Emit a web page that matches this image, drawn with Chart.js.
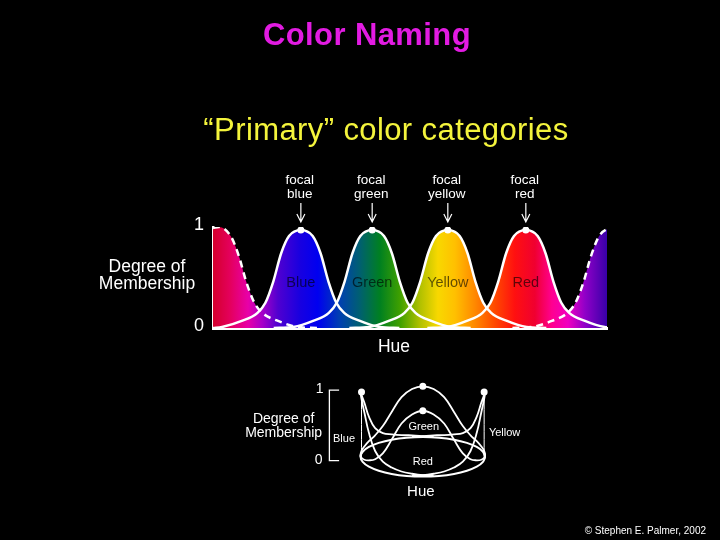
<!DOCTYPE html>
<html>
<head>
<meta charset="utf-8">
<title>Color Naming</title>
<script src="https://cdn.jsdelivr.net/npm/chart.js@4.4.1/dist/chart.umd.min.js"></script>
<style>
  html, body { margin: 0; padding: 0; background: #000; }
  #wrap { position: relative; width: 720px; height: 540px; overflow: hidden; background: #000; }
  #mainChart { position: absolute; left: 0; top: 0; }
  #crownChart { position: absolute; left: 230px; top: 372px; }
</style>
</head>
<body>
<div id="wrap">
  <canvas id="mainChart" width="720" height="540"></canvas>
  <canvas id="crownChart" width="300" height="133"></canvas>
</div>
<script>
// ===== Data: membership curves along the hue axis (hue 0..100) =====
const categories = ["Blue", "Green", "Yellow", "Red"];
const focalHue = [22.3, 40.4, 59.6, 79.4];
const focalPeak = [0.97, 0.97, 0.97, 0.97];

const hueLeft   = [0, 1.5, 4.5, 6.5, 8.5, 10.5, 12.5, 16.5, 21.5, 26.5];
const memLeft   = [0.99, 1.0, 0.91, 0.72, 0.45, 0.25, 0.15, 0.07, 0.01, 0];
const hueBlue   = [0, 2.3, 7.3, 11.3, 13.3, 15.3, 17.3, 19.3, 22.3, 25.3, 27.3, 29.3, 31.3, 33.3, 37.3, 42.3, 47.3];
const memBlue   = [0, 0.01, 0.07, 0.15, 0.25, 0.46, 0.74, 0.91, 0.97, 0.91, 0.74, 0.46, 0.25, 0.15, 0.07, 0.01, 0];
const hueGreen  = [15.4, 20.4, 25.4, 29.4, 31.4, 33.4, 35.4, 37.4, 40.4, 43.4, 45.4, 47.4, 49.4, 51.4, 55.4, 60.4, 65.4];
const memGreen  = [0, 0.01, 0.07, 0.15, 0.25, 0.46, 0.74, 0.91, 0.97, 0.91, 0.74, 0.46, 0.25, 0.15, 0.07, 0.01, 0];
const hueYellow = [34.6, 39.6, 44.6, 48.6, 50.6, 52.6, 54.6, 56.6, 59.6, 62.6, 64.6, 66.6, 68.6, 70.6, 74.6, 79.6, 84.6];
const memYellow = [0, 0.01, 0.07, 0.15, 0.25, 0.46, 0.74, 0.91, 0.97, 0.91, 0.74, 0.46, 0.25, 0.15, 0.07, 0.01, 0];
const hueRed    = [54.4, 59.4, 64.4, 68.4, 70.4, 72.4, 74.4, 76.4, 79.4, 82.4, 84.4, 86.4, 88.4, 90.4, 94.4, 99.4, 104.4];
const memRed    = [0, 0.01, 0.07, 0.15, 0.25, 0.46, 0.74, 0.91, 0.97, 0.91, 0.74, 0.46, 0.25, 0.15, 0.07, 0.01, 0];
const hueRight  = [76, 81, 86, 90, 92, 94, 96, 98, 101];
const memRight  = [0, 0.01, 0.07, 0.15, 0.25, 0.45, 0.72, 0.91, 1.0];

// ===== Data: the circular "crown" diagram (ring units, y up) =====
const ringX = [64, 61.8, 55.4, 45.3, 32, 16.6, 0, -16.6, -32, -45.3, -55.4, -61.8, -64, -61.8, -55.4, -45.3, -32, -16.6, 0, 16.6, 32, 45.3, 55.4, 61.8, 64];
const ringY = [0, 5.4, 10.5, 14.8, 18.2, 20.3, 21, 20.3, 18.2, 14.8, 10.5, 5.4, 0, -5.4, -10.5, -14.8, -18.2, -20.3, -21, -20.3, -18.2, -14.8, -10.5, -5.4, 0];
const crownBlueX   = [11.1, 0, -11.1, -21.9, -32, -41.1, -49, -55.4, -60.1, -63, -64, -63, -60.1, -55.4, -49, -41.1, -32, -21.9, -11.1, 0, 11.1];
const crownBlueY   = [21.2, 22.1, 22.9, 23, 23.8, 25.3, 30.6, 42.8, 57.8, 66, 69, 61.5, 47.5, 25.5, 6.2, -5.2, -11.4, -15.6, -18, -19.6, -20];
const crownYellowX = [-11.1, 0, 11.1, 21.9, 32, 41.1, 49, 55.4, 60.1, 63, 64, 63, 60.1, 55.4, 49, 41.1, 32, 21.9, 11.1, 0, -11.1];
const crownYellowY = [21.2, 22.1, 22.9, 23, 23.8, 25.3, 30.6, 42.8, 57.8, 66, 69, 61.5, 47.5, 25.5, 6.2, -5.2, -11.4, -15.6, -18, -19.6, -20];
const crownGreenX  = [-63, -64, -63, -60.1, -55.4, -49, -41.1, -32, -21.9, -11.1, 0, 11.1, 21.9, 32, 41.1, 49, 55.4, 60.1, 63, 64, 63];
const crownGreenY  = [-3, 1.4, 6.3, 11, 16.6, 22.9, 32.7, 47.8, 63.5, 72.2, 75, 72.2, 63.5, 47.8, 32.7, 22.9, 16.6, 11, 6.3, 1.4, -3];
const crownRedX    = [-63, -64, -63, -60.1, -55.4, -49, -41.1, -32, -21.9, -11.1, 0, 11.1, 21.9, 32, 41.1, 49, 55.4, 60.1, 63, 64, 63];
const crownRedY    = [4.4, 1.4, -1, -3.1, -3.7, -2.6, 3.6, 18.3, 35.5, 45, 49, 45, 35.5, 18.3, 3.6, -2.6, -3.7, -3.1, -1, 1.4, 4.4];
const crownPeakX = [-63, 0, 63, 0];
const crownPeakY = [69, 75, 69, 49];

// ===== Styles =====
const FONT = '"Liberation Sans", Arial, Helvetica, sans-serif';
const gradStops  = [0, 0.043, 0.089, 0.124, 0.165, 0.221, 0.266, 0.322, 0.373, 0.424, 0.475, 0.525, 0.571, 0.614, 0.665, 0.716, 0.766, 0.817, 0.86, 0.901, 0.944, 1];
const gradColors = ["#d4002c", "#e4005c", "#e800a8", "#a800c8", "#5000d0", "#1800e0", "#0000f0", "#0040b0", "#006070",
                    "#008020", "#40a000", "#b0c000", "#f8d800", "#ffc000", "#ff8800", "#ff4800", "#ff1010", "#f00030",
                    "#ff0090", "#f000c0", "#9000c8", "#3800a8"];

function toPoints(xs, ys) {
  return xs.map((v, i) => ({ x: v, y: ys[i] }));
}

function hueGradient(context) {
  const { ctx, chartArea } = context.chart;
  if (!chartArea) return 'transparent';
  const g = ctx.createLinearGradient(chartArea.left, 0, chartArea.right, 0);
  gradStops.forEach((s, i) => g.addColorStop(s, gradColors[i]));
  return g;
}

function curve(xs, ys, dashed) {
  return {
    data: toPoints(xs, ys),
    borderColor: '#ffffff',
    borderWidth: 2.5,
    borderDash: dashed ? [7, 5] : [],
    backgroundColor: hueGradient,
    fill: 'origin',
    pointRadius: 0,
    cubicInterpolationMode: 'monotone'
  };
}

// ===== Text and arrows of the main chart =====
const mainText = {
  id: 'mainText',
  afterDraw(chart) {
    const { ctx, scales: { x, y } } = chart;
    ctx.save();
    ctx.textAlign = 'center';
    ctx.textBaseline = 'middle';

    ctx.fillStyle = '#e21be2';
    ctx.font = 'bold 31px ' + FONT;
    ctx.letterSpacing = '0.4px';
    ctx.fillText('Color Naming', 367, 36);

    ctx.fillStyle = '#f4f43c';
    ctx.font = '31px ' + FONT;
    ctx.letterSpacing = '0.4px';
    ctx.fillText('\u201CPrimary\u201D color categories', 386, 131);
    ctx.letterSpacing = '0px';

    // focal labels + arrows
    ctx.fillStyle = '#ffffff';
    ctx.strokeStyle = '#ffffff';
    ctx.lineWidth = 1.2;
    ctx.font = '13.5px ' + FONT;
    focalHue.forEach((h, i) => {
      const px = x.getPixelForValue(h);
      ctx.fillText('focal', px - 1, 180);
      ctx.fillText(categories[i].toLowerCase(), px - 1, 194);
      ctx.beginPath();
      ctx.moveTo(px, 203);
      ctx.lineTo(px, 222);
      ctx.moveTo(px - 4, 214);
      ctx.lineTo(px, 222);
      ctx.lineTo(px + 4, 214);
      ctx.stroke();
    });

    // category names inside the curves
    ctx.font = '14.5px ' + FONT;
    ctx.fillStyle = 'rgba(0,0,0,0.62)';
    focalHue.forEach((h, i) => {
      ctx.fillText(categories[i], x.getPixelForValue(h), y.getPixelForValue(0.45));
    });

    // axis titles
    ctx.fillStyle = '#ffffff';
    ctx.font = '17.5px ' + FONT;
    ctx.fillText('Degree of', 147, 267);
    ctx.fillText('Membership', 147, 284);
    ctx.fillText('Hue', 394, 347);

    ctx.font = '10px ' + FONT;
    ctx.textAlign = 'right';
    ctx.fillText('\u00A9 Stephen E. Palmer, 2002', 706, 531);
    ctx.restore();
  }
};

new Chart(document.getElementById('mainChart').getContext('2d'), {
  type: 'line',
  data: {
    datasets: [
      {
        data: toPoints(focalHue, focalPeak),
        showLine: false,
        pointRadius: 3.5,
        pointBackgroundColor: '#ffffff',
        pointBorderWidth: 0,
        fill: false
      },
      curve(hueBlue, memBlue, false),
      curve(hueGreen, memGreen, false),
      curve(hueYellow, memYellow, false),
      curve(hueRed, memRed, false),
      curve(hueLeft, memLeft, true),
      curve(hueRight, memRight, true)
    ]
  },
  options: {
    responsive: false,
    animation: false,
    events: [],
    layout: { padding: { left: 173, top: 227, right: 113, bottom: 212 } },
    plugins: {
      legend: { display: false },
      tooltip: { enabled: false },
      filler: { drawTime: 'beforeDatasetsDraw' }
    },
    scales: {
      x: {
        type: 'linear', min: 0, max: 100,
        ticks: { display: false },
        grid: { display: false, drawTicks: false },
        border: { color: '#ffffff', width: 3 },
        afterFit: s => { s.height = 0; }
      },
      y: {
        min: 0, max: 1,
        ticks: { stepSize: 1, color: '#ffffff', padding: 9, labelOffset: -2, font: { size: 18, family: FONT } },
        grid: { display: false, drawTicks: false },
        border: { color: '#ffffff', width: 2.5 },
        afterFit: s => { s.width = 40; }
      }
    }
  },
  plugins: [mainText]
});

// ===== Crown diagram =====
const crownText = {
  id: 'crownText',
  afterDraw(chart) {
    const { ctx, scales: { x, y } } = chart;
    const px = v => x.getPixelForValue(v);
    const py = v => y.getPixelForValue(v);
    ctx.save();
    ctx.strokeStyle = '#ffffff';
    ctx.lineWidth = 1.3;
    ctx.beginPath();
    ctx.moveTo(px(-86), py(71));
    ctx.lineTo(px(-96), py(71));
    ctx.lineTo(px(-96), py(-4));
    ctx.lineTo(px(-86), py(-4));
    ctx.stroke();

    ctx.fillStyle = '#ffffff';
    ctx.textAlign = 'center';
    ctx.textBaseline = 'middle';
    ctx.font = '14px ' + FONT;
    ctx.fillText('1', px(-106), py(72));
    ctx.fillText('0', px(-107), py(-3));
    ctx.fillText('Degree of', px(-143), py(40));
    ctx.fillText('Membership', px(-143), py(25));
    ctx.font = '15px ' + FONT;
    ctx.fillText('Hue', px(-2), py(-37));
    ctx.font = '11px ' + FONT;
    ctx.fillText('Blue', px(-81), py(19));
    ctx.fillText('Yellow', px(84), py(25));
    ctx.fillText('Green', px(1), py(32));
    ctx.fillText('Red', px(0), py(-6));
    ctx.restore();
  }
};

function crownLine(xs, ys, width) {
  return {
    data: toPoints(xs, ys),
    showLine: true,
    borderColor: '#ffffff',
    borderWidth: width,
    pointRadius: 0,
    tension: 0.4,
    fill: false
  };
}

new Chart(document.getElementById('crownChart').getContext('2d'), {
  type: 'scatter',
  data: {
    datasets: [
      {
        data: toPoints(crownPeakX, crownPeakY),
        pointRadius: 3.5,
        pointBackgroundColor: '#ffffff',
        pointBorderWidth: 0
      },
      crownLine(ringX, ringY, 2),
      crownLine(crownBlueX, crownBlueY, 1.8),
      crownLine(crownGreenX, crownGreenY, 1.8),
      crownLine(crownYellowX, crownYellowY, 1.8),
      crownLine(crownRedX, crownRedY, 1.8),
      crownLine([crownPeakX[0], crownPeakX[0]], [crownPeakY[0], 0], 1),
      crownLine([crownPeakX[2], crownPeakX[2]], [crownPeakY[2], 0], 1)
    ]
  },
  options: {
    responsive: false,
    animation: false,
    events: [],
    layout: { padding: 0 },
    plugins: { legend: { display: false }, tooltip: { enabled: false } },
    scales: {
      x: { type: 'linear', min: -194, max: 106, display: false },
      y: { type: 'linear', min: -47, max: 86, display: false }
    }
  },
  plugins: [crownText]
});
</script>
</body>
</html>
